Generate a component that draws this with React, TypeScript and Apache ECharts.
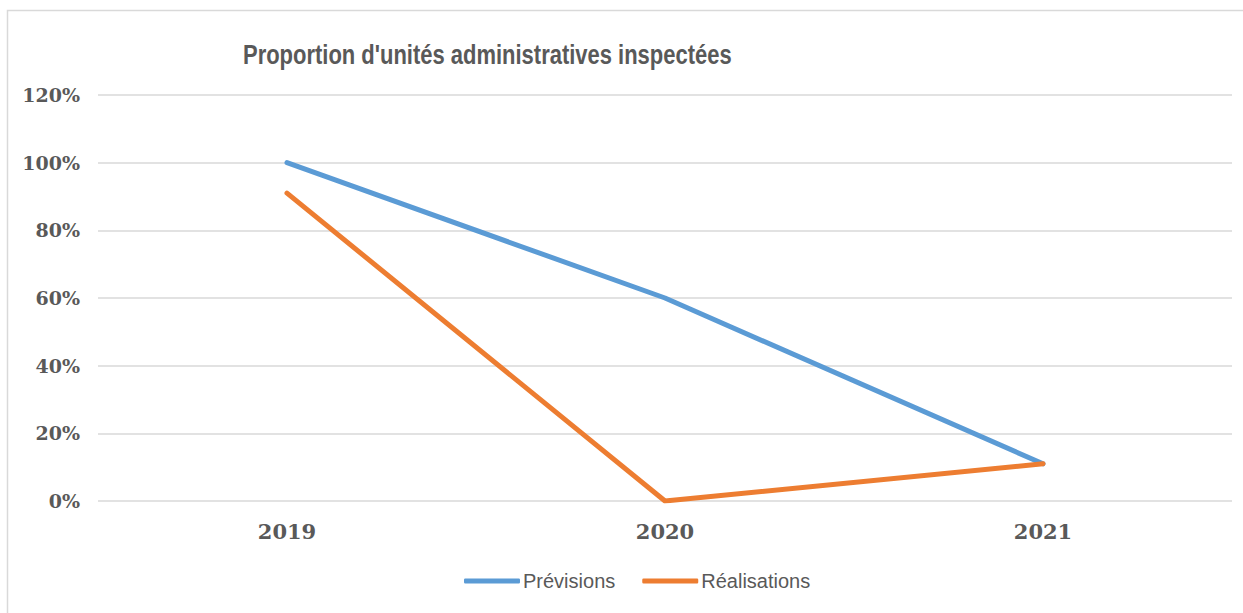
import React, { useEffect, useRef } from "react";
import * as echarts from "echarts";

const categories = ["2019", "2020", "2021"];
const previsions = [1.0, 0.6, 0.11];
const realisations = [0.91, 0.0, 0.11];
const titleText = "Proportion d'unités administratives inspectées";

export default function App() {
  const ref = useRef<HTMLDivElement>(null);
  useEffect(() => {
    if (!ref.current) return;
    const chart = echarts.init(ref.current, null, { renderer: "svg" });
    chart.setOption({
      animation: false,
      backgroundColor: "#ffffff",
      graphic: [
        {
          type: "rect",
          shape: { x: 7.5, y: 10.5, width: 1250, height: 620 },
          style: { fill: "none", stroke: "#d9d9d9", lineWidth: 1.5 },
          silent: true,
        },
        {
          type: "text",
          x: 243,
          y: 54,
          scaleX: 0.785,
          silent: true,
          style: {
            text: titleText,
            font: "bold 28px 'Liberation Sans', Arial, sans-serif",
            fill: "#595959",
            verticalAlign: "middle",
            align: "left",
          },
        },
      ],
      legend: {
        bottom: 22,
        left: 464,
        padding: 0,
        itemWidth: 56,
        itemHeight: 5,
        itemGap: 27,
        icon: "roundRect",
        textStyle: {
          fontFamily: "'Liberation Sans', sans-serif",
          fontSize: 20,
          color: "#595959",
          padding: [0, 0, 0, -2],
        },
        data: ["Prévisions", "Réalisations"],
      },
      grid: { left: 98, right: 11, top: 95, bottom: 112, containLabel: false },
      xAxis: {
        type: "category",
        data: categories,
        boundaryGap: true,
        axisLine: { show: false },
        axisTick: { show: false },
        axisLabel: {
          margin: 20,
          fontFamily: "'DejaVu Serif', serif",
          fontWeight: "bold",
          fontSize: 21,
          color: "#595959",
        },
      },
      yAxis: {
        type: "value",
        min: 0,
        max: 1.2,
        interval: 0.2,
        axisLine: { show: false },
        axisTick: { show: false },
        splitLine: { lineStyle: { color: "#d9d9d9", width: 1.5 } },
        axisLabel: {
          margin: 18,
          fontFamily: "'DejaVu Serif', serif",
          fontWeight: "bold",
          fontSize: 19,
          color: "#595959",
          formatter: (v: number) => Math.round(v * 100) + "%",
        },
      },
      series: [
        {
          name: "Prévisions",
          type: "line",
          data: previsions,
          showSymbol: false,
          symbol: "none",
          itemStyle: { color: "#5b9bd5" },
          lineStyle: { color: "#5b9bd5", width: 5, cap: "round", join: "round" },
        },
        {
          name: "Réalisations",
          type: "line",
          data: realisations,
          showSymbol: false,
          symbol: "none",
          itemStyle: { color: "#ed7d31" },
          lineStyle: { color: "#ed7d31", width: 5, cap: "round", join: "round" },
        },
      ],
    });
    return () => chart.dispose();
  }, []);
  return (
    <div
      ref={ref}
      style={{ position: "absolute", left: 0, top: 0, width: 1243, height: 613 }}
    />
  );
}
